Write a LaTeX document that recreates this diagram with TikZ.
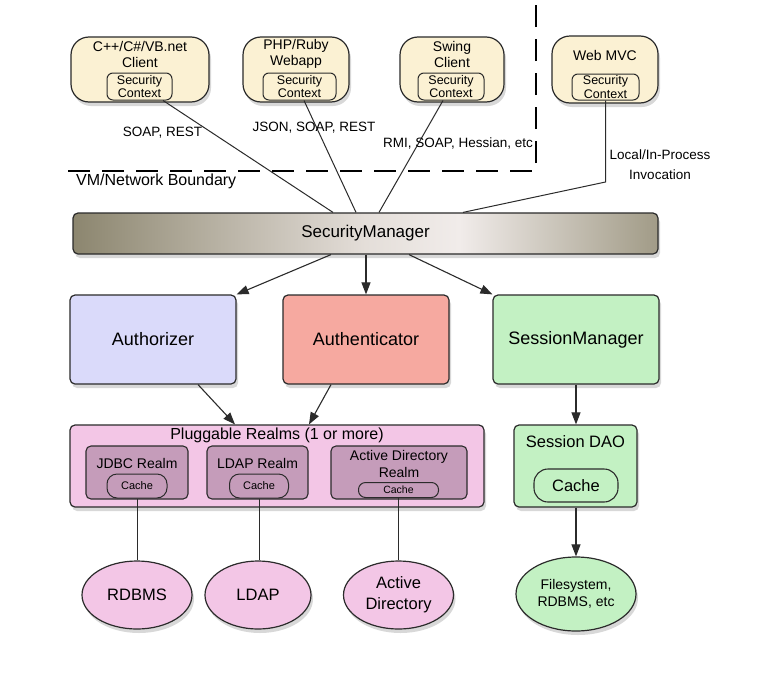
\documentclass[tikz,border=0pt]{standalone}
\usepackage{fontspec}
\setmainfont{Liberation Sans}
\usetikzlibrary{shadows,arrows.meta,calc,shapes.geometric}
\definecolor{cream}{HTML}{FBF1D3}
\definecolor{lav}{HTML}{DADAFA}
\definecolor{salmon}{HTML}{F6A9A0}
\definecolor{mint}{HTML}{C3F1C3}
\definecolor{pinkbg}{HTML}{F3C6E6}
\definecolor{mauve}{HTML}{C59CBA}
\definecolor{edge}{HTML}{2B2B2B}
\definecolor{smdark}{HTML}{8C866F}
\definecolor{smmid}{HTML}{E4DED9}
\definecolor{smlight}{HTML}{F1ECEA}
\definecolor{smdarkr}{HTML}{A19B87}
\pgfdeclarehorizontalshading{smshade}{100bp}{color(0bp)=(smdark); color(25bp)=(smdark); color(50bp)=(smmid); color(58bp)=(smlight); color(75bp)=(smdarkr); color(100bp)=(smdarkr)}
\tikzset{
  shd/.style={drop shadow={opacity=0.3, shadow xshift=2pt, shadow yshift=-4pt}},
  bx/.style={draw=edge, line width=1.2pt, rounded corners=5pt, shd, inner sep=0pt},
  client/.style={bx, fill=cream, rounded corners=18pt},
  ctitle/.style={align=center, inner sep=0pt, font=\fontsize{14}{16}\selectfont},
  ctx/.style={draw=edge, line width=1pt, rounded corners=6pt, fill=cream, inner sep=0pt, align=center, font=\fontsize{12.5}{13.5}\selectfont},
  big/.style={font=\fontsize{18}{21}\selectfont},
  realm/.style={draw=edge, line width=1.1pt, rounded corners=5pt, fill=mauve, inner sep=0pt},
  rtitle/.style={align=center, inner sep=0pt, font=\fontsize{14}{17}\selectfont},
  cache/.style={draw=edge, line width=1pt, fill=mauve, inner sep=0pt, font=\fontsize{11}{13}\selectfont},
  ell/.style={ellipse, draw=edge, line width=1.2pt, shd, inner sep=0pt, align=center, font=\fontsize{16.5}{21}\selectfont},
  lbl/.style={inner sep=0pt, font=\fontsize{13.5}{20}\selectfont},
  conn/.style={draw=edge, line width=1pt},
  arr/.style={draw=edge, line width=1.1pt, -{Triangle[length=12pt,width=9pt]}},
  boundary/.style={draw=black, line width=2.8pt, dash pattern=on 22pt off 12pt}
}
\begin{document}
\begin{tikzpicture}[x=1pt,y=-1pt]
\useasboundingbox[fill=white] (0,0) rectangle (760,672);

% VM / network boundary
\coordinate (bL) at (68,171);
\coordinate (bC) at (536,171);
\coordinate (bT) at (536,0);
\draw[boundary] (bL) -- (bC) -- (bT);

% clients
\node[client, minimum width=138pt, minimum height=65pt] (c1) at (140,69.5) {};
\node[client, minimum width=106pt, minimum height=65pt] (c2) at (296,69.5) {};
\node[client, minimum width=104pt, minimum height=65pt] (c3) at (452,69.5) {};
\node[client, minimum width=106pt, minimum height=67pt] (c4) at (605,69.5) {};
\node[ctitle] (t1) at (140,54) {C++/C\#/VB.net\\Client};
\node[ctitle] (t2) at (296,54) {PHP/Ruby\\Webapp};
\node[ctitle] (t3) at (452,54) {Swing\\Client};
\node[ctitle] (t4) at (605,55) {Web MVC};
\node[ctx, minimum width=65pt, minimum height=27pt] (x1) at (139.5,86.5) {Security\\Context};
\node[ctx, minimum width=73pt, minimum height=27pt] (x2) at (299.5,86.5) {Security\\Context};
\node[ctx, minimum width=66pt, minimum height=27pt] (x3) at (451,86.5) {Security\\Context};
\node[ctx, minimum width=67pt, minimum height=26pt] (x4) at (605.5,87) {Security\\Context};

% security manager
\node[bx, shade, shading=smshade, minimum width=585pt, minimum height=41pt, font=\fontsize{17}{20}\selectfont] (sm) at (365.5,233.5) {SecurityManager};

% connectors from clients
\coordinate (wb) at (605.5,182);
\draw[conn] ([xshift=23.5pt]x1.south) -- ([xshift=-32.5pt]sm.north);
\draw[conn] ([xshift=4.5pt]x2.south) -- ([xshift=-9.5pt]sm.north);
\draw[conn] ([xshift=-8pt]x3.south) -- ([xshift=13.5pt]sm.north);
\draw[conn] (x4.south) -- (wb) -- ([xshift=97.5pt]sm.north);

% labels
\node[lbl] (l1) at (162.5,133) {SOAP, REST};
\node[lbl] (l2) at (314,128) {JSON, SOAP, REST};
\node[lbl] (l3) at (458,143) {RMI, SOAP, Hessian, etc};
\node[lbl, anchor=west, font=\fontsize{16}{19}\selectfont] (l4) at (76,181) {VM/Network Boundary};
\node[lbl, align=center] (l5) at (660,165) {Local/In-Process\\Invocation};

% middle components
\node[bx, fill=lav, minimum width=166pt, minimum height=89pt, big] (authz) at (153,339.5) {Authorizer};
\node[bx, fill=salmon, minimum width=166pt, minimum height=89pt, big] (authn) at (366,339.5) {Authenticator};
\node[bx, fill=mint, minimum width=166pt, minimum height=89pt, big] (sessm) at (576,339.5) {SessionManager};

\draw[arr] ([xshift=-34.5pt]sm.south) -- (authz.north east);
\draw[arr] (sm.south -| authn.north) -- (authn.north);
\draw[arr] ([xshift=43.5pt]sm.south) -- (sessm.north west);

% pluggable realms
\node[bx, fill=pinkbg, minimum width=414pt, minimum height=82pt] (realms) at (277,466) {};
\node[inner sep=0pt, font=\fontsize{16}{19}\selectfont] (rt) at (277,435) {Pluggable Realms (1 or more)};
\node[realm, minimum width=102pt, minimum height=53pt] (jdbc) at (137,472.5) {};
\node[rtitle] (jdbct) at (137,463) {JDBC Realm};
\node[cache, minimum width=60pt, minimum height=24pt, rounded corners=10pt] (jc) at (137,486) {Cache};
\node[realm, minimum width=101pt, minimum height=53pt] (ldapr) at (257.5,472.5) {};
\node[rtitle] (ldapt) at (257.5,463) {LDAP Realm};
\node[cache, minimum width=59pt, minimum height=24pt, rounded corners=10pt] (lc) at (259,486) {Cache};
\node[realm, minimum width=136pt, minimum height=53pt] (adr) at (399,472.5) {};
\node[rtitle] (adt) at (399,463.5) {Active Directory\\Realm};
\node[cache, minimum width=80pt, minimum height=15pt, rounded corners=7pt, font=\fontsize{10.5}{12}\selectfont] (adc) at (398.5,490) {Cache};

\draw[arr] ([xshift=45pt]authz.south) -- ([xshift=-42pt]realms.north);
\draw[arr] ([xshift=-35pt]authn.south) -- ([xshift=32pt]realms.north);

% session DAO
\node[bx, fill=mint, minimum width=123pt, minimum height=82pt] (sdao) at (575.5,466) {};
\node[inner sep=0pt, font=\fontsize{16.5}{19}\selectfont] (sdaot) at (575.5,442) {Session DAO};
\node[draw=edge, line width=1.1pt, fill=mint, rounded corners=14pt, inner sep=0pt, minimum width=84pt, minimum height=33pt, font=\fontsize{16.5}{19}\selectfont] (sc) at (576,485.5) {Cache};
\draw[arr] (sessm.south) -- (sessm.south |- sdao.north);

% data stores
\node[ell, fill=pinkbg, minimum width=110pt, minimum height=68pt] (rdbms) at (137,595) {RDBMS};
\node[ell, fill=pinkbg, minimum width=106pt, minimum height=68pt] (ldap) at (258,595) {LDAP};
\node[ell, fill=pinkbg, minimum width=110pt, minimum height=68pt] (adir) at (398.5,595) {Active\\Directory};
\node[ell, fill=mint, minimum width=120pt, minimum height=74pt, font=\fontsize{14}{17}\selectfont] (fs) at (576,594) {Filesystem,\\RDBMS, etc};

\draw[conn] (jc.south) -- (rdbms.north);
\draw[conn] (lc.south) -- (lc.south |- ldap.north);
\draw[conn] (adc.south) -- (adir.north);
\draw[arr] (sdao.south -| fs.north) -- (fs.north);
\end{tikzpicture}
\end{document}
